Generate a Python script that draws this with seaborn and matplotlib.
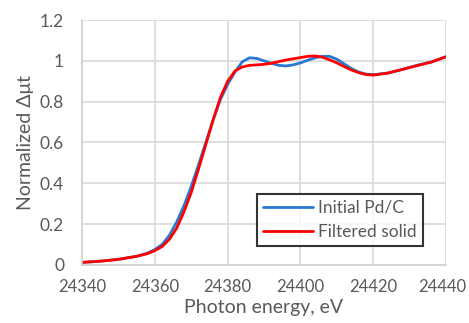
import numpy as np
import pandas as pd
import matplotlib
matplotlib.use("Agg")
import matplotlib.pyplot as plt
import matplotlib.transforms as mtransforms
import seaborn as sns

energy = [24340, 24345, 24350, 24355, 24358, 24360, 24362, 24364, 24366, 24368,
          24370, 24372, 24374, 24376, 24378, 24380, 24382, 24384, 24386, 24388,
          24390, 24392, 24394, 24396, 24398, 24400, 24402, 24404, 24406, 24408,
          24410, 24412, 24414, 24416, 24418, 24420, 24424, 24428, 24432, 24436, 24440]

initial_pdc = [0.012, 0.018, 0.027, 0.042, 0.058, 0.075, 0.10, 0.145, 0.21, 0.29,
               0.385, 0.49, 0.60, 0.71, 0.81, 0.885, 0.945, 0.995, 1.015, 1.012,
               1.0, 0.988, 0.978, 0.975, 0.98, 0.99, 1.003, 1.015, 1.022, 1.022,
               1.008, 0.985, 0.962, 0.945, 0.935, 0.932, 0.94, 0.958, 0.978, 0.995, 1.02]

filtered_solid = [0.012, 0.018, 0.027, 0.042, 0.055, 0.07, 0.09, 0.125, 0.18, 0.26,
                  0.355, 0.47, 0.59, 0.71, 0.82, 0.90, 0.95, 0.97, 0.978, 0.98,
                  0.983, 0.988, 0.996, 1.004, 1.01, 1.016, 1.022, 1.024, 1.018, 1.005,
                  0.99, 0.972, 0.955, 0.942, 0.933, 0.93, 0.94, 0.958, 0.976, 0.994, 1.02]

labels = ["Initial Pd/C", "Filtered solid"]
colors = ["#2878d2", "#ff0000"]
xticks = [24340, 24360, 24380, 24400, 24420, 24440]
yticks = [0, 0.2, 0.4, 0.6, 0.8, 1, 1.2]
ytick_labels = ["0", "0.2", "0.4", "0.6", "0.8", "1", "1.2"]

df = pd.concat([
    pd.DataFrame({"E": energy, "mu": initial_pdc, "series": labels[0]}),
    pd.DataFrame({"E": energy, "mu": filtered_solid, "series": labels[1]}),
])

sns.set_theme(style="white")
plt.rcParams["font.family"] = ["Lato", "DejaVu Sans"]
txt = "#595959"

fig = plt.figure(figsize=(4.69, 3.23), dpi=100)
ax = fig.add_axes([0.175, 0.180, 0.776, 0.758])
sns.lineplot(data=df, x="E", y="mu", hue="series", palette=dict(zip(labels, colors)),
             linewidth=2.0, ax=ax, sort=False)

ax.set_xlim(24340, 24440)
ax.set_ylim(0, 1.2)
ax.set_xticks(xticks)
ax.set_xticklabels([str(t) for t in xticks])
ax.set_yticks(yticks)
ax.set_yticklabels(ytick_labels)
ax.grid(True, color="#d9d9d9", linewidth=1.2)
ax.set_axisbelow(True)
for s in ["top", "right"]:
    ax.spines[s].set_visible(False)
for s in ["left", "bottom"]:
    ax.spines[s].set_color("#d0d0d0")
    ax.spines[s].set_linewidth(1.2)
ax.tick_params(axis="x", length=0, labelsize=12, colors=txt, pad=10)
ax.tick_params(axis="y", length=0, labelsize=12.5, colors=txt, pad=13)
last = ax.get_xticklabels()[-1]
last.set_transform(last.get_transform() + mtransforms.ScaledTranslation(-4 / 100, 0, fig.dpi_scale_trans))
ax.set_xlabel("Photon energy, eV", fontsize=14, color=txt, labelpad=3)
ax.set_ylabel("Normalized \u0394\u03bct", fontsize=14, color=txt, labelpad=4)

leg = ax.legend(loc="lower right", bbox_to_anchor=(0.937, 0.078), borderaxespad=0,
                fontsize=12.5, frameon=True, fancybox=False, handlelength=2.9,
                handletextpad=0.3, borderpad=0.35, labelspacing=0.45)
leg.get_frame().set_edgecolor("black")
leg.get_frame().set_linewidth(1.5)
for t in leg.get_texts():
    t.set_color(txt)

fig.savefig("out.png", dpi=100)
